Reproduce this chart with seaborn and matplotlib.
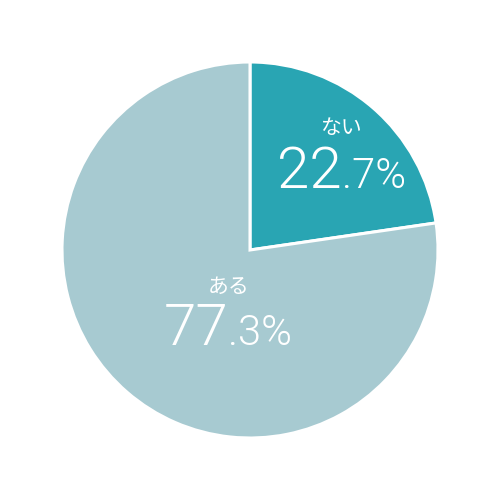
import matplotlib
matplotlib.use('Agg')
import matplotlib.pyplot as plt
import seaborn as sns

labels = ['ない', 'ある']
values = [22.7, 77.3]
colors = ['#29a5b3', '#a7cad1']

sns.set_style('white')
plt.rcParams['font.family'] = ['Noto Sans CJK JP', 'DejaVu Sans']

fig = plt.figure(figsize=(5, 5), dpi=100)
ax = fig.add_axes([0, 0, 1, 1])
palette = sns.color_palette(colors)
ax.pie(values, colors=palette, startangle=90, counterclock=False, radius=1,
       wedgeprops=dict(edgecolor='white', linewidth=2.2))
lim = 250 / 188
ax.set_xlim(-lim, lim)
ax.set_ylim(-lim, lim)
ax.set_aspect('equal')
ax.axis('off')

def px(x, y):
    # pixel position in the 500x500 image -> data coords
    return (x - 250) / 188, (250 - y) / 188

# label positions: (name centre, split point of big/small number, baseline)
spots = [(341, 128, 342, 188), (229, 287, 228, 345)]
for lab, val, (cx, cy, sx, by) in zip(labels, values, spots):
    whole, frac = '{:.1f}'.format(val).split('.')
    x, y = px(cx, cy)
    ax.text(x, y, lab, ha='center', va='center', fontsize=15, color='white')
    x, y = px(sx, by)
    ax.text(x, y, whole, ha='right', va='baseline', fontsize=42,
            color='white', family=['Roboto', 'DejaVu Sans'], fontweight=300)
    ax.text(x, y, '.' + frac + '%', ha='left', va='baseline', fontsize=30,
            color='white', family=['Roboto', 'DejaVu Sans'], fontweight=300)

fig.savefig('out.png', dpi=100, facecolor='white')
